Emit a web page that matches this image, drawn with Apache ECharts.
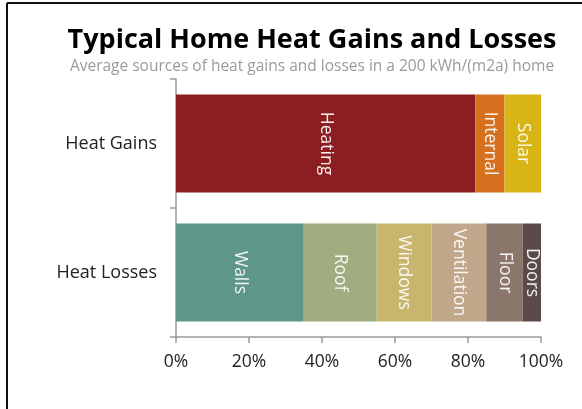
<!DOCTYPE html>
<html>
<head>
<meta charset="utf-8">
<script src="https://cdn.jsdelivr.net/npm/echarts@6/dist/echarts.min.js"></script>
<style>
html,body{margin:0;padding:0;background:#fff;}
#chart{width:582px;height:409px;}
</style>
</head>
<body>
<div id="chart"></div>
<script>
// Data
const categories = ['Heat Losses', 'Heat Gains'];
const gainNames = ['Heating', 'Internal', 'Solar'];
const gainValues = [82, 8, 10];
const lossNames = ['Walls', 'Roof', 'Windows', 'Ventilation', 'Floor', 'Doors'];
const lossValues = [35, 20, 15, 15, 10, 5];
const xTicks = [0, 20, 40, 60, 80, 100];
const titleText = 'Typical Home Heat Gains and Losses';
const subtitleText = 'Average sources of heat gains and losses in a 200 kWh/(m2a) home';

const gainColors = ['#8c1d21', '#d4701e', '#d9b415'];
const lossColors = ['#5e9787', '#a1ac80', '#c8b56e', '#c0a78a', '#8a766a', '#5a4b49'];

const FONT = '"Open Sans", "Noto Sans", sans-serif';

const series = [];
function addSeries(names, values, colors, catIndex) {
  names.forEach((n, i) => {
    const data = categories.map((c, k) => (k === catIndex ? values[i] : '-'));
    series.push({
      name: n,
      type: 'bar',
      stack: 'total',
      barWidth: 98,
      data: data,
      itemStyle: { color: colors[i] },
      label: {
        show: true,
        position: 'inside',
        rotate: -90,
        formatter: '{a}',
        color: 'rgba(255,255,255,0.92)',
        fontFamily: FONT,
        fontSize: 17.5
      },
      emphasis: { disabled: true }
    });
  });
}
addSeries(gainNames, gainValues, gainColors, 1);
addSeries(lossNames, lossValues, lossColors, 0);

const chart = echarts.init(document.getElementById('chart'), null, { renderer: 'canvas' });
chart.setOption({
  animation: false,
  backgroundColor: '#fff',
  grid: { left: 176, right: 41, top: 79, bottom: 72, containLabel: false },
  xAxis: {
    type: 'value',
    min: xTicks[0],
    max: xTicks[xTicks.length - 1],
    interval: xTicks[1] - xTicks[0],
    axisLine: { show: true, lineStyle: { color: '#9a9a9a', width: 1.5 } },
    axisTick: { show: true, length: 6, lineStyle: { color: '#9a9a9a', width: 1.5 } },
    splitLine: { show: false },
    axisLabel: {
      formatter: '{value}%',
      color: '#222',
      fontFamily: FONT,
      fontSize: 17.5,
      margin: 16
    }
  },
  yAxis: {
    type: 'category',
    data: categories,
    axisLine: { show: true, lineStyle: { color: '#9a9a9a', width: 1.5 } },
    axisTick: { show: true, length: 6, lineStyle: { color: '#9a9a9a', width: 1.5 } },
    axisLabel: {
      color: '#222',
      fontFamily: FONT,
      fontSize: 18,
      margin: 19
    }
  },
  graphic: [
    { type: 'line', shape: { x1: 7, y1: 3, x2: 582, y2: 3 }, style: { stroke: '#111', lineWidth: 2 } },
    { type: 'line', shape: { x1: 7, y1: 3, x2: 7, y2: 409 }, style: { stroke: '#111', lineWidth: 2 } },
    { type: 'text', x: 312, y: 40, style: { text: titleText, fill: '#000', font: 'bold 27px ' + FONT, textAlign: 'center', textVerticalAlign: 'middle' } },
    { type: 'text', x: 312, y: 67, style: { text: subtitleText, fill: '#9a9a9a', font: '15.5px ' + FONT, textAlign: 'center', textVerticalAlign: 'middle' } }
  ],
  series: series
});
</script>
</body>
</html>
